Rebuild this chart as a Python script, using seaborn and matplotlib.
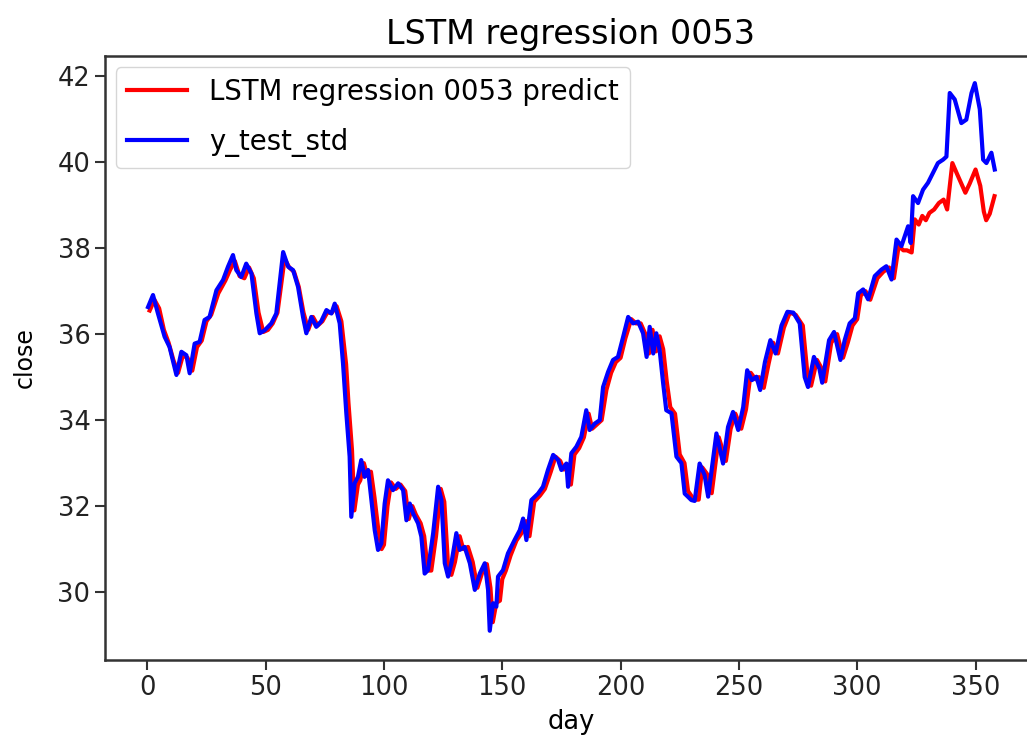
import matplotlib
matplotlib.use("Agg")
import matplotlib.pyplot as plt
import seaborn as sns

# y_test_std (blue), day -> close
day_test = [0.3, 2.4, 4.5, 7.3, 9.4, 12.3, 14.4, 16.5, 17.9, 20.0,
            22.1, 24.2, 26.3, 29.2, 32.0, 34.1, 36.2, 37.6, 39.7, 41.8,
            44.0, 46.1, 47.5, 49.6, 52.4, 54.5, 57.4, 59.5, 61.6, 63.7,
            65.8, 67.2, 69.3, 71.4, 73.5, 75.7, 77.8, 79.2, 81.3, 82.7,
            84.1, 85.5, 86.2, 87.6, 89.0, 90.4, 91.8, 93.3, 94.7, 96.1,
            97.5, 98.9, 100.3, 101.7, 103.8, 106.0, 108.1, 109.5, 110.9, 112.3,
            114.4, 115.8, 117.2, 118.6, 120.8, 122.9, 124.3, 125.7, 127.1, 128.5,
            130.6, 132.0, 134.1, 136.3, 138.4, 140.5, 142.6, 144.0, 144.7, 146.1,
            147.5, 148.2, 150.3, 152.4, 155.2, 157.4, 158.8, 160.2, 162.3, 165.1,
            167.2, 169.3, 171.5, 173.6, 175.0, 177.1, 177.8, 179.2, 181.3, 183.4,
            185.5, 186.9, 189.1, 191.2, 192.6, 194.7, 196.8, 198.9, 201.1, 203.2,
            205.3, 207.4, 209.5, 211.0, 212.3, 213.8, 215.1, 216.5, 218.0, 219.3,
            221.5, 223.6, 225.7, 227.1, 229.9, 231.3, 233.4, 235.5, 237.0, 240.5,
            243.3, 245.4, 247.5, 249.7, 251.8, 253.5, 255.5, 257.4, 259.0, 261.0,
            263.3, 265.5, 268.0, 270.5, 273.0, 275.7, 277.8, 279.2, 281.7, 284.0,
            285.2, 288.1, 290.2, 292.9, 294.7, 296.8, 299.0, 300.4, 302.5, 304.6,
            307.4, 310.2, 312.3, 314.5, 316.6, 318.7, 320.1, 321.5, 322.6, 323.6,
            325.7, 327.8, 329.9, 332.0, 334.1, 336.3, 337.7, 339.1, 341.2, 344.0,
            346.1, 348.3, 349.7, 351.8, 353.2, 354.6, 356.7, 358.1]
close_test = [36.63, 36.91, 36.48, 35.94, 35.70, 35.05, 35.59, 35.51, 35.09, 35.78,
              35.82, 36.33, 36.40, 37.02, 37.26, 37.57, 37.84, 37.49, 37.33, 37.64,
              37.41, 36.48, 36.02, 36.09, 36.25, 36.48, 37.91, 37.57, 37.49, 37.10,
              36.40, 36.02, 36.40, 36.17, 36.30, 36.56, 36.48, 36.71, 36.25, 35.32,
              34.16, 33.15, 31.75, 32.53, 32.68, 33.07, 32.68, 32.84, 32.14, 31.44,
              30.98, 31.13, 32.06, 32.60, 32.37, 32.53, 32.37, 31.67, 32.06, 31.83,
              31.60, 31.29, 30.43, 30.51, 31.37, 32.45, 32.14, 30.67, 30.36, 30.67,
              31.37, 30.98, 31.05, 30.67, 30.05, 30.43, 30.67, 30.05, 29.10, 29.74,
              29.66, 30.36, 30.51, 30.90, 31.21, 31.44, 31.71, 31.21, 32.14, 32.29,
              32.45, 32.84, 33.19, 33.07, 32.84, 32.99, 32.45, 33.23, 33.38, 33.61,
              34.23, 33.77, 33.92, 34.00, 34.77, 35.12, 35.40, 35.47, 35.94, 36.40,
              36.25, 36.29, 36.02, 35.47, 36.17, 35.55, 36.02, 35.63, 34.85, 34.23,
              34.16, 33.15, 33.00, 32.29, 32.14, 32.12, 32.99, 32.72, 32.22, 33.69,
              32.99, 33.84, 34.19, 33.77, 34.30, 35.16, 34.93, 35.01, 34.70, 35.35,
              35.86, 35.55, 36.20, 36.52, 36.50, 36.25, 35.00, 34.77, 35.47, 35.20,
              34.87, 35.86, 36.05, 35.40, 35.86, 36.25, 36.37, 36.95, 37.04, 36.81,
              37.35, 37.50, 37.58, 37.27, 38.20, 38.05, 38.28, 38.51, 38.12, 39.21,
              39.05, 39.36, 39.52, 39.75, 39.98, 40.06, 40.13, 41.61, 41.46, 40.91,
              40.99, 41.61, 41.84, 41.23, 40.06, 39.98, 40.22, 39.83]

# LSTM prediction (red)
day_pred = [1.0, 3.0, 5.0, 7.0, 9.0, 11.0, 13.0, 15.0, 17.0, 19.0,
            21.0, 23.0, 25.0, 27.0, 30.0, 33.0, 35.0, 37.0, 39.0, 41.0,
            43.0, 45.0, 47.0, 49.0, 51.0, 53.0, 55.0, 58.0, 60.0, 62.0,
            64.0, 66.0, 68.0, 70.0, 72.0, 74.0, 76.0, 78.0, 80.0, 82.0,
            84.0, 85.0, 86.5, 87.5, 89.0, 90.0, 91.5, 93.0, 94.5, 96.0,
            97.5, 99.0, 100.0, 101.5, 103.0, 105.0, 107.0, 109.0, 110.5, 112.0,
            113.5, 115.5, 117.0, 118.5, 120.0, 122.0, 124.0, 125.5, 127.0, 128.5,
            130.0, 132.0, 133.5, 135.5, 137.5, 139.5, 141.5, 143.5, 145.0, 146.0,
            147.5, 149.0, 150.0, 151.5, 153.5, 156.0, 158.5, 160.0, 161.5, 163.5,
            166.0, 168.0, 170.5, 172.5, 174.5, 176.0, 178.0, 179.0, 180.5, 182.5,
            184.5, 186.5, 188.0, 190.0, 192.0, 194.0, 196.0, 198.0, 200.0, 202.0,
            204.5, 206.5, 208.5, 210.5, 212.0, 213.5, 215.0, 216.5, 218.0, 219.5,
            221.0, 223.0, 225.0, 227.0, 228.5, 231.0, 233.0, 234.5, 236.5, 238.5,
            241.5, 244.5, 246.5, 248.5, 251.0, 253.0, 255.0, 257.0, 258.5, 260.5,
            262.5, 264.5, 266.5, 269.0, 271.5, 274.0, 277.0, 279.0, 280.5, 283.0,
            285.0, 286.5, 289.0, 291.5, 294.0, 296.0, 298.0, 300.0, 301.5, 303.5,
            305.5, 308.5, 311.0, 313.5, 315.5, 317.5, 319.5, 321.0, 323.0, 324.3,
            326.0, 327.5, 329.0, 330.5, 332.5, 334.5, 336.5, 338.0, 340.2, 342.0,
            345.7, 347.5, 350.0, 352.0, 353.5, 354.5, 356.0, 358.0]
close_pred = [36.55, 36.80, 36.60, 36.10, 35.80, 35.40, 35.10, 35.50, 35.45, 35.15,
              35.70, 35.85, 36.30, 36.45, 36.95, 37.25, 37.50, 37.70, 37.35, 37.30,
              37.55, 37.30, 36.50, 36.05, 36.10, 36.25, 36.50, 37.75, 37.55, 37.45,
              37.10, 36.50, 36.10, 36.40, 36.20, 36.30, 36.50, 36.50, 36.65, 36.30,
              35.30, 34.40, 33.30, 31.90, 32.50, 32.60, 33.00, 32.70, 32.80, 32.20,
              31.50, 31.00, 31.10, 32.00, 32.55, 32.40, 32.50, 32.35, 31.70, 32.00,
              31.80, 31.60, 31.30, 30.50, 30.50, 31.30, 32.40, 32.10, 30.70, 30.40,
              30.70, 31.30, 31.00, 31.05, 30.70, 30.10, 30.45, 30.65, 30.10, 29.30,
              29.75, 29.80, 30.30, 30.50, 30.85, 31.20, 31.40, 31.65, 31.30, 32.10,
              32.25, 32.40, 32.80, 33.15, 33.05, 32.85, 32.95, 32.50, 33.20, 33.35,
              33.60, 34.15, 33.80, 33.90, 34.00, 34.70, 35.10, 35.35, 35.45, 35.90,
              36.35, 36.25, 36.25, 36.00, 35.55, 36.10, 35.60, 35.95, 35.65, 34.90,
              34.30, 34.15, 33.20, 33.00, 32.35, 32.15, 32.15, 32.90, 32.75, 32.30,
              33.60, 33.05, 33.80, 34.15, 33.80, 34.25, 35.10, 34.95, 35.00, 34.75,
              35.30, 35.80, 35.55, 36.15, 36.50, 36.45, 36.20, 35.05, 34.80, 35.40,
              35.20, 34.90, 35.80, 36.00, 35.45, 35.80, 36.20, 36.35, 36.90, 37.00,
              36.80, 37.30, 37.45, 37.55, 37.30, 38.05, 37.95, 37.95, 37.90, 38.67,
              38.55, 38.75, 38.65, 38.82, 38.90, 39.05, 39.13, 38.90, 39.98, 39.75,
              39.29, 39.50, 39.83, 39.45, 38.85, 38.65, 38.80, 39.21]

xticks = [0, 50, 100, 150, 200, 250, 300, 350]
yticks = [30, 32, 34, 36, 38, 40, 42]

fig = plt.figure(figsize=(10.27, 7.51), dpi=100)
# axes run past the right edge, like the cropped screenshot
ax = fig.add_axes([0.1022, 0.1212, 0.95, 0.8042])

sns.lineplot(x=day_pred, y=close_pred, ax=ax, color="red", linewidth=3.0,
             estimator=None, sort=False, label="LSTM regression 0053 predict")
sns.lineplot(x=day_test, y=close_test, ax=ax, color="blue", linewidth=3.0,
             estimator=None, sort=False, label="y_test_std")

ax.set_xlim(-17.9, 394.4)
ax.set_ylim(28.42, 42.47)
ax.set_xticks(xticks)
ax.set_yticks(yticks)
ax.tick_params(labelsize=18.5, length=7, width=1.5, colors="#333333", labelcolor="#222222")
for s in ax.spines.values():
    s.set_linewidth(1.8)
    s.set_color("#333333")

ax.set_title("LSTM regression 0053", fontsize=24, pad=9, x=0.4776)
ax.set_xlabel("day", fontsize=18.5, labelpad=6, x=0.4776)
ax.set_ylabel("close", fontsize=17, labelpad=15)
ax.legend(loc="upper left", fontsize=19.8, handlelength=2.2, labelspacing=0.8,
          borderaxespad=0.4)

fig.savefig("out.png", dpi=100)
